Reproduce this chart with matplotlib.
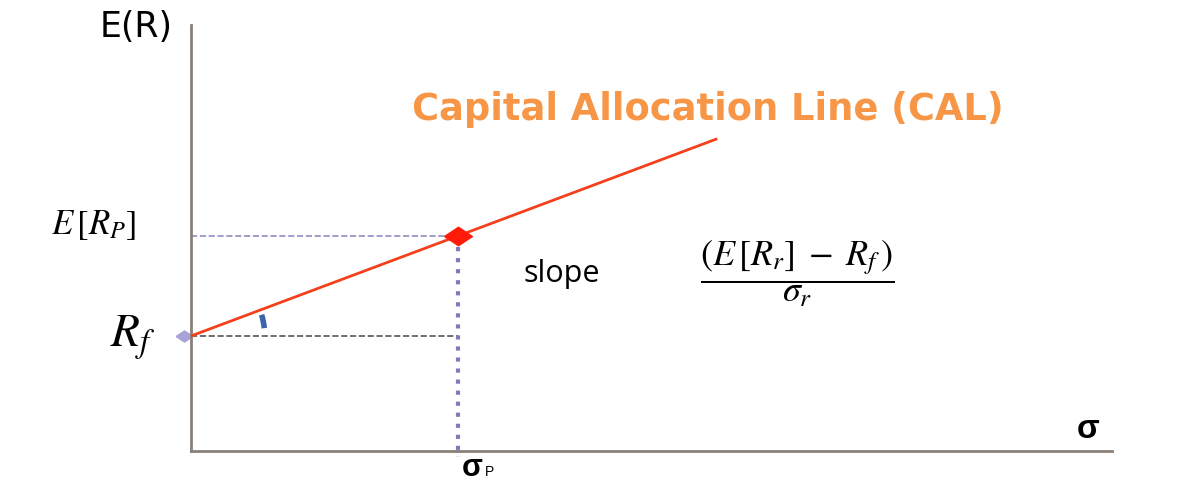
import matplotlib.pyplot as plt
import numpy as np
from matplotlib.patches import Arc

# values (arbitrary units)
rf = 2.7          # risk free rate
sigma_p = 2.9     # risk of portfolio P
e_rp = 5.05       # expected return of P
cal_end = 5.7     # where the drawn CAL stops
slope = (e_rp - rf) / sigma_p

plt.rcParams['mathtext.fontset'] = 'stix'

fig = plt.figure(figsize=(11.96, 4.84), dpi=100)
ax = fig.add_axes([191/1196, 33/484, 921/1196, 426/484])
ax.set_xlim(0, 10)
ax.set_ylim(0, 10)

for s in ['top', 'right']:
    ax.spines[s].set_visible(False)
for s in ['left', 'bottom']:
    ax.spines[s].set_color('#8b8079')
    ax.spines[s].set_linewidth(2)
ax.set_xticks([])
ax.set_yticks([])

# capital allocation line
xs = np.array([0, cal_end])
ax.plot(xs, rf + slope * xs, color='#f5401c', lw=2, zorder=3)

# helper lines
ax.plot([0, sigma_p], [e_rp, e_rp], ls='--', color='#8f8fc4', lw=1.2)
ax.plot([0, sigma_p], [rf, rf], ls='--', color='#555555', lw=1.2)
ax.plot([sigma_p, sigma_p], [e_rp, -0.15], ls=':', color='#7c7cb8', lw=3, clip_on=False)

# markers
wide_diamond = [(-1.5, 0), (0, 1), (1.5, 0), (0, -1), (-1.5, 0)]
ax.plot([sigma_p], [e_rp], marker=wide_diamond, ms=20, color='#ff1a0a', zorder=4)
ax.plot([-0.08], [rf], marker=wide_diamond, ms=12, color='#a7a3d8', clip_on=False, zorder=2)

# small angle mark
ax.add_patch(Arc((0, rf), 1.6, 3.48, theta1=13, theta2=33, color='#3b64ad', lw=4))

# labels
fig.text(136/1196, 1 - 27/484, 'E(R)', fontsize=25, ha='center', va='center', color='black')
fig.text(94/1196, 1 - 225/484, r'$E\,[R_P]$', fontsize=25, ha='center', va='center')
fig.text(133/1196, 1 - 338/484, r'$R_f$', fontsize=34, ha='center', va='center')
fig.text(708/1196, 1 - 110/484, 'Capital Allocation Line (CAL)', fontsize=26.5, fontweight='bold',
         family='DejaVu Sans', color='#f79646', ha='center', va='center')
fig.text(562/1196, 1 - 274/484, 'slope', fontsize=22, family='Open Sans', ha='center', va='center')
fig.text(797/1196, 1 - 274/484, r'$\dfrac{(E\,[R_r]\;-\;R_f\,)}{\sigma_r}$', fontsize=26,
         ha='center', va='center')
fig.text(1088/1196, 1 - 430/484, 'σ', fontsize=24, fontweight='bold', family='Liberation Sans',
         ha='center', va='center')
fig.text(472/1196, 1 - 468/484, 'σ', fontsize=22, fontweight='bold', family='Liberation Sans',
         ha='center', va='center')
fig.text(490/1196, 1 - 472/484, 'P', fontsize=10, family='Liberation Sans', ha='center', va='center')

fig.savefig('out.png', dpi=100)
